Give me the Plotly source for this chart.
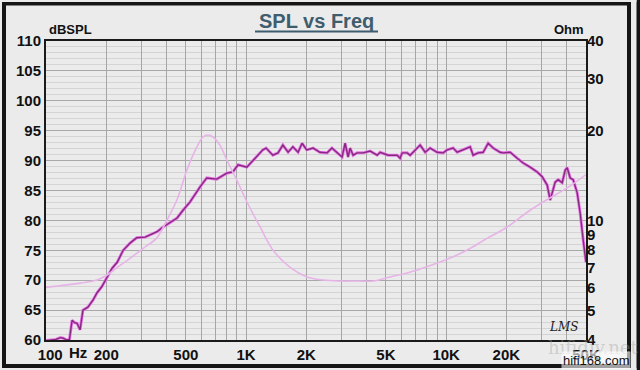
import plotly.graph_objects as go
import math

# ---------------- data ----------------
spl_freq = [100, 105, 112, 118, 122, 127, 131, 135, 139, 143, 148, 153, 162, 172, 180, 190, 202, 214, 227,
            243, 263, 284, 313, 331, 359, 385, 417, 452, 484, 525, 589, 636, 714, 801, 859, 912, 1009,
            1132, 1213, 1259, 1361, 1445, 1527, 1622, 1714, 1820, 1905, 2009, 2163, 2339, 2541, 2685,
            2851, 3020, 3126, 3236, 3311, 3428, 3589, 3846, 4169, 4519, 4677, 5129, 5689, 5888, 6026,
            6383, 6607, 7161, 7413, 7852, 8318, 9016, 9661, 10116, 10839, 11350, 12162, 13183, 13646,
            14454, 15311, 16218, 17179, 18621, 19275, 20893, 22646, 24266, 26303, 28510, 30200, 31989,
            33113, 33884, 35075, 36308, 38019, 39355, 40272, 41687, 43152, 45186, 46774, 48417, 50000]
spl_db = [59.9, 60.0, 60.1, 60.4, 60.3, 60.0, 60.1, 63.3, 62.9, 62.8, 61.7, 65.0, 65.5, 66.7, 67.9, 68.9,
          70.5, 72.0, 73.0, 75.0, 76.2, 77.1, 77.2, 77.6, 78.1, 78.9, 79.7, 80.4, 81.7, 83.1, 85.6, 87.1,
          86.9, 87.9, 88.1, 89.3, 88.9, 90.6, 91.8, 92.1, 90.9, 91.3, 92.6, 91.4, 92.3, 91.4, 92.9, 91.8,
          92.1, 91.4, 91.3, 92.1, 91.4, 90.6, 92.9, 90.6, 92.1, 90.9, 91.3, 91.3, 91.6, 90.9, 91.4, 90.9,
          90.9, 90.4, 91.3, 91.3, 90.9, 92.1, 92.6, 91.4, 92.1, 91.4, 91.3, 91.8, 92.1, 91.4, 91.8, 92.3,
          90.9, 91.3, 91.4, 92.9, 92.1, 91.4, 91.3, 91.4, 90.4, 89.6, 88.9, 88.1, 87.3, 85.9, 83.4, 84.7,
          86.4, 86.8, 86.3, 88.4, 88.8, 87.1, 86.8, 84.6, 81.2, 76.7, 73.0]

imp_freq = [100, 148, 180, 202, 226, 263, 306, 359, 403, 452, 506, 568, 609, 646, 684, 741, 801, 899,
            1009, 1175, 1361, 1660, 2018, 2427, 2951, 3589, 4315, 5248, 6383, 7674, 9333, 11350,
            13646, 15311, 20185, 25420, 31989, 40272, 50000]
imp_ohm = [6.0, 6.2, 6.35, 6.6, 6.97, 7.5, 8.1, 8.8, 10.1, 11.8, 14.8, 17.7, 19.1, 19.4, 19.1, 17.9,
           16.0, 13.7, 11.6, 9.55, 8.0, 7.0, 6.5, 6.35, 6.3, 6.3, 6.3, 6.5, 6.7, 6.97, 7.3, 7.7, 8.2,
           8.6, 9.55, 10.7, 11.8, 12.9, 14.3]

x_label_vals = [100, 200, 500, 1000, 2000, 5000, 10000, 20000, 50000]
x_label_text = ["\u00a0\u00a0100", "200", "500", "1K", "2K", "5K", "10K", "20K", "50K"]
x_grid_vals = [m * 10 ** e for e in (2, 3, 4) for m in range(1, 10) if m * 10 ** e <= 50000]
y_left_ticks = [60, 65, 70, 75, 80, 85, 90, 95, 100, 105, 110]
y_right_ticks = [4, 5, 6, 7, 8, 9, 10, 20, 30, 40]

# ---------------- layout geometry (px) ----------------
W, H = 640, 370
L, R, T, B = 46, 586, 41, 340

def px_x(p):
    return (p - L) / (R - L)

def px_y(p):
    return (B - p) / (B - T)

TICKFONT = dict(family="Arial, Liberation Sans", size=15, color="#111111", weight="bold")
PANEL = "#ebebeb"

fig = go.Figure()
fig.add_trace(go.Scatter(x=imp_freq, y=imp_ohm, yaxis="y2", mode="lines", line_shape="spline",
                         line=dict(color="#e6b4e6", width=1.6), hoverinfo="skip", showlegend=False))
fig.add_trace(go.Scatter(x=spl_freq, y=spl_db, mode="lines",
                         line=dict(color="#e878e6", width=3.0), hoverinfo="skip", showlegend=False))
fig.add_trace(go.Scatter(x=spl_freq, y=spl_db, mode="lines",
                         line=dict(color="#86287f", width=1.4), hoverinfo="skip", showlegend=False))

x_text = [x_label_text[x_label_vals.index(v)] if v in x_label_vals else "" for v in x_grid_vals]

fig.update_layout(
    width=W, height=H,
    margin=dict(l=L, r=W - R, t=T, b=H - B, pad=0),
    paper_bgcolor="#151515", plot_bgcolor="#ffffff",
    showlegend=False,
    xaxis=dict(type="log", range=[2, math.log10(50000)], tickvals=x_grid_vals, ticktext=x_text,
               showgrid=True, gridcolor="#a6a6a6", gridwidth=1, tickfont=TICKFONT,
               showline=True, linecolor="#1a1a1a", linewidth=2, mirror=True, ticks="",
               zeroline=False, fixedrange=True, automargin=False),
    yaxis=dict(range=[60, 110], tickvals=y_left_ticks, showgrid=True, gridcolor="#a8a8a8",
               minor=dict(dtick=1, showgrid=True, gridcolor="#d4d4d4", gridwidth=1),
               tickfont=TICKFONT, showline=True, linecolor="#1a1a1a", linewidth=2, mirror=True,
               ticks="", zeroline=False, automargin=False),
    yaxis2=dict(type="log", range=[math.log10(4), math.log10(40)], overlaying="y", side="right",
                tickvals=y_right_ticks, ticktext=[str(v) for v in y_right_ticks], showgrid=False,
                tickfont=TICKFONT, ticks="", zeroline=False, showline=False, automargin=False),
    font=dict(family="Arial, Liberation Sans"),
)

# light panel inside the dark outer frame (paper background is the frame colour)
fig.add_shape(type="rect", xref="paper", yref="paper", x0=px_x(6), x1=px_x(627), y0=px_y(364), y1=px_y(5.5),
              line=dict(width=0), fillcolor=PANEL, layer="below")
fig.add_shape(type="rect", xref="paper", yref="paper", x0=px_x(631), x1=px_x(636.5), y0=px_y(370), y1=px_y(0),
              line=dict(width=0), fillcolor=PANEL, layer="below")
fig.add_shape(type="rect", xref="paper", yref="paper", x0=px_x(0), x1=px_x(636.5), y0=px_y(370), y1=px_y(368),
              line=dict(width=0), fillcolor=PANEL, layer="below")
fig.add_shape(type="rect", xref="paper", yref="paper", x0=px_x(0), x1=px_x(2), y0=px_y(370), y1=px_y(0),
              line=dict(width=0), fillcolor=PANEL, layer="below")
fig.add_shape(type="rect", xref="paper", yref="paper", x0=px_x(0), x1=px_x(636.5), y0=px_y(2), y1=px_y(0),
              line=dict(width=0), fillcolor=PANEL, layer="below")

# title with underline
TITLE_COLOR = "#3e5d6d"
fig.add_annotation(text="<b>SPL vs Freq</b>", xref="paper", yref="paper", x=px_x(316), y=px_y(21),
                   showarrow=False, font=dict(size=20, color=TITLE_COLOR), xanchor="center", yanchor="middle")
fig.add_shape(type="line", xref="paper", yref="paper", x0=px_x(255), x1=px_x(378), y0=px_y(31.5), y1=px_y(31.5),
              line=dict(color=TITLE_COLOR, width=2))

# axis titles
fig.add_annotation(text="<b>dBSPL</b>", xref="paper", yref="paper", x=px_x(47), y=px_y(29),
                   showarrow=False, font=dict(size=13, color="#111111"), xanchor="left", yanchor="middle")
fig.add_annotation(text="<b>Ohm</b>", xref="paper", yref="paper", x=px_x(586), y=px_y(29),
                   showarrow=False, font=dict(size=13, color="#111111"), xanchor="right", yanchor="middle")
fig.add_annotation(text="<b>Hz</b>", xref="paper", yref="paper", x=px_x(78), y=px_y(352),
                   showarrow=False, font=dict(family="Arial, Liberation Sans", size=15, color="#111111"),
                   xanchor="center", yanchor="middle")

# LMS signature
fig.add_annotation(text="<i>LMS</i>", xref="paper", yref="paper", x=px_x(563), y=px_y(327),
                   showarrow=False, font=dict(size=12, color="#222222", family="DejaVu Serif"),
                   xanchor="center", yanchor="middle")

# watermarks
fig.add_annotation(text="hifidiy.net", xref="paper", yref="paper", x=px_x(640), y=px_y(347),
                   showarrow=False, font=dict(size=18, color="rgba(160,160,160,0.4)", family="DejaVu Serif"),
                   xanchor="right", yanchor="middle")
fig.add_annotation(text="hifi168.com", xref="paper", yref="paper", x=px_x(631), y=px_y(360),
                   showarrow=False, font=dict(size=13, color="#111111", family="Liberation Sans Narrow, Arial"),
                   xanchor="right", yanchor="middle", bgcolor="rgba(255,255,255,0.6)")

fig.write_html("out.html", config={"displayModeBar": False, "staticPlot": True},
               post_script="document.body.style.margin='0';document.body.style.padding='0';document.body.style.overflow='hidden';")
